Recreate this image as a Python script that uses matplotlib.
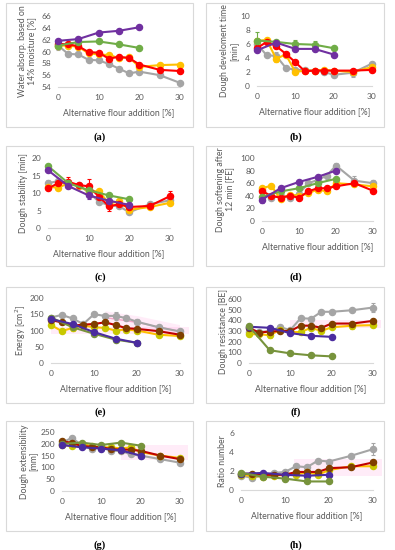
import matplotlib
matplotlib.use("Agg")
import matplotlib.pyplot as plt
from matplotlib.patches import Rectangle
import numpy as np

plt.rcParams['font.family'] = ['Lato', 'DejaVu Sans']

# ---------------- data ----------------
x_full = [0, 2.5, 5, 7.5, 10, 12.5, 15, 17.5, 20, 25, 30]
x_five = [0, 5, 10, 15, 20]

# (a) water absorption
a_purple = [61.8, 62.1, 63.2, 63.5, 64.1]
a_green = [61.0, 61.6, 61.7, 61.2, 60.6]
a_red = [61.3, 61.2, 60.9, 59.9, 59.8, 58.8, 59.1, 58.9, 57.8, 56.9, 56.7]
a_orange = [61.0, 61.0, 60.8, 59.7, 59.5, 59.4, 58.9, 59.0, 57.4, 57.7, 57.8]
a_gray = [61.0, 59.6, 59.5, 58.6, 58.5, 57.9, 57.1, 56.3, 56.6, 56.0, 54.7]

# (b) dough development time
b_green = [6.5, 6.3, 6.0, 5.9, 5.4]
b_purple = [5.1, 6.2, 5.3, 5.3, 4.5]
b_red = [5.4, 6.3, 5.7, 4.6, 3.4, 2.1, 2.2, 2.2, 2.2, 2.2, 2.3]
b_orange = [6.4, 6.6, 3.9, 4.5, 2.0, 2.2, 2.2, 2.3, 2.2, 2.0, 2.7]
b_gray = [6.0, 4.4, 4.3, 2.6, 2.3, 2.3, 2.2, 2.0, 1.6, 1.9, 3.2]

# (c) dough stability
c_green = [17.7, 12.8, 10.8, 9.3, 8.2]
c_purple = [16.5, 12.0, 9.3, 7.8, 6.6]
c_red = [11.3, 12.8, 13.2, 12.3, 11.9, 9.0, 6.2, 6.8, 6.0, 6.3, 9.1]
c_orange = [11.8, 11.5, 12.8, 12.0, 10.5, 10.5, 7.0, 7.6, 5.2, 6.0, 7.2]
c_gray = [12.8, 13.4, 12.6, 12.3, 10.2, 7.5, 6.5, 6.2, 4.5, 6.8, 7.9]

# (d) dough softening
d_purple = [34, 52, 62, 70, 80]
d_green = [38, 47, 52, 60, 67]
d_red = [47, 40, 37, 40, 37, 47, 52, 52, 55, 60, 48]
d_orange = [52, 56, 35, 42, 40, 44, 50, 47, 60, 58, 55]
d_gray = [50, 37, 40, 37, 43, 60, 65, 72, 88, 64, 60]

# (e) energy
e_blue = [135, 120, 95, 75, 62]
e_green = [140, 110, 90, 72, 62]
e_gray = [140, 148, 137, 120, 150, 145, 145, 138, 127, 110, 97]
e_red = [132, 125, 115, 118, 120, 125, 117, 107, 105, 98, 87]
e_yellow = [117, 98, 108, 115, 110, 108, 100, 103, 100, 87, 83]

# (f) dough resistance
f_gray = [290, 290, 300, 335, 310, 420, 415, 480, 480, 495, 520]
f_red = [330, 285, 295, 300, 300, 350, 350, 330, 370, 370, 395]
f_yellow = [270, 270, 260, 310, 290, 290, 330, 300, 335, 350, 355]
f_blue = [340, 330, 280, 255, 245]
f_green = [345, 120, 90, 72, 62]

# (g) dough extensibility
g_green = [200, 205, 195, 205, 192]
g_blue = [195, 185, 180, 172, 150]
g_gray = [205, 225, 195, 180, 185, 170, 170, 155, 150, 135, 120]
g_red = [210, 205, 190, 188, 185, 178, 175, 175, 170, 150, 135]
g_yellow = [195, 190, 200, 190, 185, 185, 180, 185, 165, 150, 140]

# (h) ratio number
h_gray = [1.5, 1.3, 1.5, 1.8, 1.9, 2.5, 2.4, 3.1, 3.0, 3.6, 4.3]
h_red = [1.7, 1.7, 1.6, 1.6, 1.6, 1.9, 1.9, 1.9, 2.3, 2.4, 2.9]
h_yellow = [1.6, 1.5, 1.4, 1.5, 1.6, 1.6, 1.9, 1.6, 2.1, 2.5, 2.5]
h_blue = [1.7, 1.8, 1.6, 1.5, 1.6]
h_green = [1.8, 1.4, 1.2, 0.9, 0.9]

ylabels = ["Water absorp. based on\n14% moisture [%]",
           "Dough develoment time\n[min]",
           "Dough stability [min]",
           "Dough softening after\n12 min [FE]",
           "Energy [cm$^2$]",
           "Dough resistance [BE]",
           "Dough extensibility\n[mm]",
           "Ratio number"]
panel_tags = ["(a)", "(b)", "(c)", "(d)", "(e)", "(f)", "(g)", "(h)"]
xlabel = "Alternative flour addition [%]"

# ---------------- styling ----------------
PURPLE = "#7030A0"
GREEN = "#70AD47"
RED = "#FF0000"
ORANGE = "#FFC000"
GRAY = "#A5A5A5"
DRED = "#C00000"
BROWN = "#7F3F00"
YEL = "#FFC000"
YGREEN = "#C8C800"
BLUE = "#4B2C9F"
OLIVE = "#77933C"
TXT = "#595959"

W, H = 395, 550
fig = plt.figure(figsize=(W / 100, H / 100), dpi=100)


def box(l, t, r, b):
    fig.patches.append(Rectangle((l / W, 1 - b / H), (r - l) / W, (b - t) / H,
                                 transform=fig.transFigure, fill=False,
                                 edgecolor="#D9D9D9", lw=0.8))


def make_ax(l, t, r, b, ylim, yticks, ylab, ylab_right):
    ax = fig.add_axes([l / W, 1 - b / H, (r - l) / W, (b - t) / H])
    ax.set_xlim(0, 30)
    ax.set_ylim(*ylim)
    ax.set_xticks([0, 10, 20, 30])
    ax.set_yticks(yticks)
    for s in ["top", "right", "left"]:
        ax.spines[s].set_visible(False)
    ax.spines["bottom"].set_color("#D9D9D9")
    ax.spines["bottom"].set_linewidth(0.8)
    ax.tick_params(length=0, labelsize=6, labelcolor=TXT, pad=5)
    ax.set_xlabel(xlabel, fontsize=6.3, color=TXT, labelpad=5)
    ax.set_ylabel(ylab, fontsize=6.3, color=TXT, linespacing=1.05)
    ax.yaxis.set_label_coords((ylab_right - l) / (r - l), 0.5)
    ax.patch.set_alpha(0)
    return ax


def series(ax, x, y, color, mcolor=None, lw=1.5, ms=4.4, z=3):
    ax.plot(x, y, color=color, lw=lw, marker="o", ms=ms,
            mfc=mcolor or color, mec=mcolor or color, clip_on=False, zorder=z)


def err(ax, x, y, e, color):
    ax.errorbar(x, y, yerr=e, fmt="none", ecolor=color, elinewidth=0.8,
                capsize=1.5, capthick=0.8, clip_on=False, zorder=2)


def glow(ax, x, y):
    ax.plot(x, y, color="#FF66CC", lw=9, alpha=0.12, solid_capstyle="butt", zorder=1)
    ax.plot(x, y, color="#F4A6C8", lw=1.0, zorder=1)


# boxes
for (l, r) in [(6, 193), (206, 384)]:
    box(l, 3, r, 127)
    box(l, 146, r, 266)
    box(l, 287, r, 403)
    box(l, 421, r, 531)

# (a)
ax = make_ax(58, 16, 180, 87, (54, 66), range(54, 67, 2), ylabels[0], 36)
err(ax, [0], [a_gray[0]], [0.7], GRAY)
series(ax, x_full, a_gray, GRAY)
series(ax, x_full, a_orange, ORANGE)
series(ax, x_full, a_red, RED)
series(ax, x_five, a_green, GREEN)
series(ax, x_five, a_purple, PURPLE)

# (b)
ax = make_ax(257, 16, 372, 86, (0, 10), range(0, 11, 2), ylabels[1], 238)
err(ax, [0, 5, 25], [b_gray[0], b_gray[2], b_gray[9]], [0.8, 0.6, 0.6], GRAY)
err(ax, [0, 10, 15], [b_green[0], b_green[2], b_green[3]], [1.2, 0.6, 0.6], GREEN)
err(ax, [5], [b_orange[2]], [0.5], ORANGE)
series(ax, x_full, b_gray, GRAY)
series(ax, x_full, b_orange, ORANGE)
series(ax, x_full, b_red, RED)
series(ax, x_five, b_green, GREEN)
series(ax, x_five, b_purple, PURPLE)

# (c)
ax = make_ax(48, 158, 170, 228, (0, 20), range(0, 21, 5), ylabels[2], 28)
err(ax, [5, 10, 15, 30], [c_red[2], c_red[4], c_red[6], c_red[10]], [1.4, 2.0, 1.3, 1.5], RED)
err(ax, [0], [c_gray[0]], [1.0], GRAY)
err(ax, [10], [c_purple[2]], [1.0], PURPLE)
series(ax, x_full, c_gray, GRAY)
series(ax, x_full, c_orange, ORANGE)
series(ax, x_full, c_red, RED)
series(ax, x_five, c_green, GREEN)
series(ax, x_five, c_purple, PURPLE)

# (d)
ax = make_ax(262, 158, 373, 221, (0, 100), range(0, 101, 20), ylabels[3], 234)
err(ax, [0, 20, 25, 30], [d_gray[0], d_gray[8], d_gray[9], d_gray[10]], [6, 4, 8, 5], GRAY)
err(ax, [0], [d_purple[0]], [6], PURPLE)
err(ax, [5], [d_orange[2]], [4], ORANGE)
series(ax, x_full, d_gray, GRAY)
series(ax, x_full, d_orange, ORANGE)
series(ax, x_full, d_red, RED)
series(ax, x_five, d_green, GREEN)
series(ax, x_five, d_purple, PURPLE)

# (e)
ax = make_ax(51, 298, 180, 363, (0, 200), range(0, 201, 50), ylabels[4], 28)
ax.fill_between([0, 32], 88, 112, color="#FF66CC", alpha=0.12, lw=0, zorder=0, clip_on=False)
err(ax, [15, 20], [e_gray[6], e_gray[8]], [12, 8], GRAY)
err(ax, [5, 20], [e_yellow[2], e_yellow[8]], [10, 8], YEL)
series(ax, x_full, e_gray, GRAY)
glow(ax, [12.5, 20, 30], [140, 125, 97])
series(ax, x_full, e_yellow, YEL, YGREEN)
series(ax, x_full, e_red, DRED, BROWN)
series(ax, x_five, e_green, OLIVE)
series(ax, x_five, e_blue, BLUE)

# (f)
ax = make_ax(249, 299, 373, 363, (0, 600), range(0, 601, 100), ylabels[5], 228)
ax.fill_between([10, 32], 330, 400, color="#FF66CC", alpha=0.14, lw=0, zorder=0, clip_on=False)
err(ax, [30], [f_gray[10]], [45], GRAY)
err(ax, [5, 25], [f_yellow[2], f_yellow[9]], [30, 35], YEL)
series(ax, x_full, f_gray, GRAY)
series(ax, x_full, f_yellow, YEL, YGREEN)
series(ax, x_full, f_red, DRED, BROWN)
series(ax, x_five, f_blue, BLUE)
series(ax, x_five, f_green, OLIVE)

# (g)
ax = make_ax(62, 432, 180, 491, (0, 250), range(0, 251, 50), ylabels[6], 38)
ax.fill_between([15, 32], 130, 195, color="#FF66CC", alpha=0.12, lw=0, zorder=0, clip_on=False)
series(ax, x_full, g_gray, GRAY)
series(ax, x_full, g_yellow, YEL, YGREEN)
series(ax, x_full, g_red, DRED, BROWN)
series(ax, x_five, g_green, OLIVE)
series(ax, x_five, g_blue, BLUE)

# (h)
ax = make_ax(241, 433, 373, 490, (0, 6), range(0, 7, 2), ylabels[7], 227)
ax.fill_between([12, 32], 1.5, 3.3, color="#FF66CC", alpha=0.12, lw=0, zorder=0, clip_on=False)
err(ax, [30], [h_gray[10]], [0.6], GRAY)
series(ax, x_full, h_gray, GRAY)
series(ax, x_full, h_yellow, YEL, YGREEN)
series(ax, x_full, h_red, DRED, BROWN)
series(ax, x_five, h_blue, BLUE)
series(ax, x_five, h_green, OLIVE)

# panel tags
tag_pos = [(100, 137), (296, 137), (100, 277), (296, 277),
           (100, 412), (296, 412), (100, 545), (296, 545)]
for tag, (px, py) in zip(panel_tags, tag_pos):
    fig.text(px / W, 1 - py / H, tag, ha="center", va="center", fontsize=7.5,
             fontweight="bold", family=["Liberation Serif", "DejaVu Serif"], color="black")

fig.savefig("out.png", dpi=100)
